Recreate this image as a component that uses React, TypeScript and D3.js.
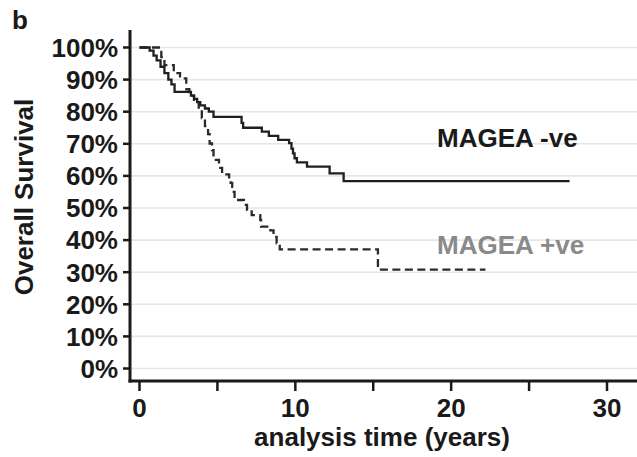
import { useEffect, useRef } from 'react'
import * as d3 from 'd3'

// Kaplan-Meier steps: [time in years, survival %]
const negTimes = [0, 0.65, 0.9, 1.1, 1.35, 1.6, 1.85, 2.05, 2.25, 3.3, 3.5, 3.7, 3.9, 4.2, 4.45, 4.75, 6.55, 6.65, 7.85, 8.3, 8.9, 9.6, 9.75, 9.85, 9.95, 10.1, 10.75, 12.2, 13.1, 27.6]
const negSurv = [100, 99, 97.5, 96, 94, 92, 90, 88.5, 86.2, 85, 84, 83, 82, 81, 80, 78.4, 76.5, 75, 73.8, 72.5, 71.2, 70.2, 68.5, 67, 65.5, 64.2, 62.9, 60.8, 58.4, 58.4]

const posTimes = [0, 1.4, 1.6, 2.2, 2.6, 3.0, 3.2, 3.5, 3.8, 4.0, 4.2, 4.4, 4.5, 4.65, 4.75, 4.9, 5.1, 5.3, 5.75, 5.85, 5.95, 6.05, 6.1, 6.7, 6.9, 7.2, 7.75, 7.8, 8.4, 8.6, 8.8, 9.0, 15.3, 22.2]
const posSurv = [100, 97, 94.5, 92, 90.4, 87, 85, 83, 80.5, 78, 75.5, 73, 70.1, 68, 66, 65, 62.5, 60.5, 59, 57.8, 56.6, 55, 52.5, 51, 49.4, 47.8, 46.3, 44.2, 43, 41, 39, 37.1, 30.8, 30.8]

const yTicks = [0, 10, 20, 30, 40, 50, 60, 70, 80, 90, 100]
const xTicks = [0, 5, 10, 15, 20, 25, 30]
const xLabels = [0, 10, 20, 30]

const App = () => {
  const ref = useRef<SVGSVGElement>(null)

  useEffect(() => {
    const width = 637
    const font = '"Liberation Sans", Arial, sans-serif'
    const svg = d3.select(ref.current)
    svg.selectAll('*').remove()

    const x = d3.scaleLinear().domain([0, 30]).range([139.5, 607])
    const y = d3.scaleLinear().domain([0, 100]).range([368.5, 47.5])
    const axisX = 130
    const axisY = 381

    // gridlines
    svg.append('g')
      .selectAll('line')
      .data(yTicks)
      .enter().append('line')
      .attr('x1', axisX)
      .attr('x2', width)
      .attr('y1', d => y(d))
      .attr('y2', d => y(d))
      .attr('stroke', '#e6e6e6')
      .attr('stroke-width', 1.6)

    // Y axis
    svg.append('line')
      .attr('x1', axisX).attr('x2', axisX)
      .attr('y1', 30).attr('y2', axisY + 1.5)
      .attr('stroke', '#1a1a1a').attr('stroke-width', 3)
    svg.append('g')
      .selectAll('line')
      .data(yTicks)
      .enter().append('line')
      .attr('x1', axisX - 7).attr('x2', axisX)
      .attr('y1', d => y(d)).attr('y2', d => y(d))
      .attr('stroke', '#1a1a1a').attr('stroke-width', 2.5)
    svg.append('g')
      .selectAll('text')
      .data(yTicks)
      .enter().append('text')
      .attr('x', 118)
      .attr('y', d => y(d))
      .attr('dy', '0.36em')
      .attr('text-anchor', 'end')
      .attr('font-family', font)
      .attr('font-weight', 'bold')
      .attr('font-size', 26)
      .attr('fill', '#1a1a1a')
      .text(d => d + '%')

    // X axis
    svg.append('line')
      .attr('x1', axisX - 1.5).attr('x2', width)
      .attr('y1', axisY).attr('y2', axisY)
      .attr('stroke', '#1a1a1a').attr('stroke-width', 3)
    svg.append('g')
      .selectAll('line')
      .data(xTicks)
      .enter().append('line')
      .attr('x1', d => x(d)).attr('x2', d => x(d))
      .attr('y1', axisY).attr('y2', axisY + 10)
      .attr('stroke', '#1a1a1a').attr('stroke-width', 2.5)
    svg.append('g')
      .selectAll('text')
      .data(xLabels)
      .enter().append('text')
      .attr('x', d => x(d))
      .attr('y', 417)
      .attr('text-anchor', 'middle')
      .attr('font-family', font)
      .attr('font-weight', 'bold')
      .attr('font-size', 26)
      .attr('fill', '#1a1a1a')
      .text(d => d)

    // curves
    const line = d3.line<[number, number]>()
      .x(d => x(d[0]))
      .y(d => y(d[1]))
      .curve(d3.curveStepAfter)

    const negData = negTimes.map((t, i) => [t, negSurv[i]] as [number, number])
    const posData = posTimes.map((t, i) => [t, posSurv[i]] as [number, number])

    svg.append('path')
      .attr('d', line(posData))
      .attr('fill', 'none')
      .attr('stroke', '#2a2a2a')
      .attr('stroke-width', 2.3)
      .attr('stroke-dasharray', '8,4.5')
    svg.append('path')
      .attr('d', line(negData))
      .attr('fill', 'none')
      .attr('stroke', '#1f1f1f')
      .attr('stroke-width', 2.3)

    // labels
    svg.append('text')
      .attr('x', 437).attr('y', 147)
      .attr('font-family', font).attr('font-weight', 'bold').attr('font-size', 26)
      .attr('fill', '#1a1a1a')
      .text('MAGEA -ve')
    svg.append('text')
      .attr('x', 437).attr('y', 254)
      .attr('font-family', font).attr('font-weight', 'bold').attr('font-size', 26)
      .attr('fill', '#8a8a8a')
      .text('MAGEA +ve')

    // axis titles
    svg.append('text')
      .attr('x', 382).attr('y', 446)
      .attr('text-anchor', 'middle')
      .attr('font-family', font).attr('font-weight', 'bold').attr('font-size', 26)
      .attr('fill', '#1a1a1a')
      .text('analysis time (years)')
    svg.append('text')
      .attr('transform', 'translate(33,197) rotate(-90)')
      .attr('text-anchor', 'middle')
      .attr('font-family', font).attr('font-weight', 'bold').attr('font-size', 26)
      .attr('fill', '#1a1a1a')
      .text('Overall Survival')

    // panel letter
    svg.append('text')
      .attr('x', 12).attr('y', 29)
      .attr('font-family', font).attr('font-weight', 'bold').attr('font-size', 26)
      .attr('fill', '#1a1a1a')
      .text('b')
  }, [])

  return (
    <svg ref={ref} width={637} height={457}
      style={{ position: 'absolute', left: 0, top: 0, background: '#fff' }} />
  )
}

export default App
